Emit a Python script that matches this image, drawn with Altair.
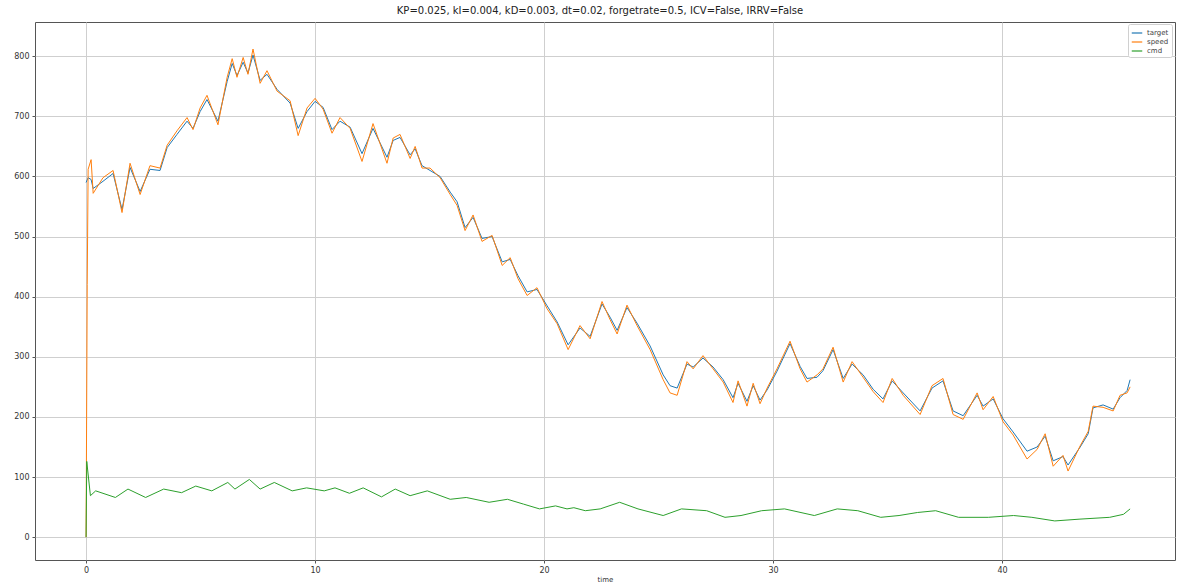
import altair as alt
import pandas as pd

# Time stamps (s) and controller trace values
t_target = [0.0, 0.09, 0.22, 0.31, 0.74, 1.18, 1.57, 1.92, 2.36, 2.79, 3.23, 3.54, 3.97, 4.41, 4.67,
            4.98, 5.28, 5.76, 6.16, 6.38, 6.59, 6.86, 7.07, 7.29, 7.60, 7.90, 8.34, 8.91, 9.26,
            9.65, 10.0, 10.35, 10.74, 11.09, 11.53, 12.05, 12.53, 13.14, 13.41, 13.71, 14.15,
            14.37, 14.67, 15.02, 15.46, 15.90, 16.20, 16.55, 16.90, 17.29, 17.73, 18.17, 18.52,
            18.86, 19.26, 19.69, 20.13, 20.57, 21.05, 21.57, 22.01, 22.53, 22.88, 23.19, 23.62,
            24.06, 24.63, 25.20, 25.50, 25.81, 26.24, 26.51, 26.94, 27.38, 27.82, 28.25, 28.47,
            28.86, 29.13, 29.43, 29.74, 30.17, 30.74, 31.18, 31.48, 31.92, 32.18, 32.62, 33.06,
            33.45, 33.93, 34.37, 34.80, 35.20, 35.68, 36.42, 36.94, 37.42, 37.86, 38.30, 38.91,
            39.17, 39.61, 40.04, 40.48, 41.09, 41.53, 41.88, 42.23, 42.66, 42.88, 43.41, 43.76,
            43.97, 44.41, 44.85, 45.15, 45.46, 45.59]

target = [590, 598, 595, 580, 592, 605, 545, 615, 575, 612, 610, 648, 670, 692, 680,
          708, 728, 692, 758, 788, 768, 790, 772, 802, 760, 770, 745, 722, 680,
          708, 725, 715, 678, 692, 682, 638, 680, 632, 660, 665, 636,
          646, 618, 610, 600, 574, 558, 515, 532, 497, 500, 458, 462,
          435, 408, 412, 385, 358, 320, 348, 334, 388, 366, 344, 382,
          356, 318, 270, 252, 248, 288, 283, 298, 283, 262, 232, 256,
          226, 252, 228, 245, 276, 322, 284, 264, 266, 277, 312, 264,
          288, 270, 246, 230, 260, 240, 210, 248, 260, 210, 202, 236,
          218, 230, 197, 175, 143, 150, 168, 127, 134, 120, 150, 172,
          215, 220, 213, 232, 244, 262]

t_speed = [0.0, 0.05] + t_target[1:]
speed = [0, 420, 612, 628, 572, 598, 610, 540, 622, 570, 618, 614, 652, 676, 698, 678,
         714, 735, 686, 765, 796, 765, 798, 770, 812, 755, 776, 742, 726, 668,
         714, 730, 712, 672, 698, 680, 625, 688, 622, 664, 670, 630,
         650, 614, 614, 598, 570, 552, 510, 536, 492, 502, 452, 465,
         430, 402, 415, 380, 355, 312, 352, 330, 392, 362, 338, 386,
         352, 312, 262, 240, 236, 292, 280, 302, 280, 258, 224, 260,
         218, 256, 222, 248, 280, 326, 280, 258, 270, 280, 316, 258,
         292, 266, 242, 224, 264, 236, 204, 252, 264, 204, 196, 240,
         212, 234, 192, 170, 130, 146, 172, 118, 136, 110, 152, 176,
         218, 216, 210, 236, 240, 250]

t_cmd = [0.0, 0.03, 0.19, 0.42, 1.28, 1.83, 2.6, 3.39, 4.17, 4.79, 5.49, 6.19, 6.5, 7.13, 7.6,
         8.22, 9.0, 9.63, 10.4, 10.87, 11.5, 12.1, 12.9, 13.5, 14.15, 14.9, 15.9, 16.6, 17.6,
         18.4, 19.1, 19.8, 20.5, 21.0, 21.3, 21.8, 22.45, 23.3, 24.1, 25.2, 26.0, 27.1, 27.9,
         28.6, 29.5, 30.5, 31.8, 32.8, 33.7, 34.7, 35.5, 36.3, 37.1, 38.1, 39.4, 40.5, 41.3,
         42.3, 43.4, 44.7, 45.3, 45.59]
cmd = [0, 126, 69, 77, 66, 80, 66, 80, 74, 85, 77, 91, 80, 96, 80,
       91, 77, 82, 77, 82, 73, 82, 67, 80, 69, 77, 63, 66, 58,
       63, 55, 47, 52, 47, 49, 44, 47, 58, 47, 36, 47, 44, 33,
       36, 44, 47, 36, 47, 44, 33, 36, 41, 44, 33, 33, 36, 33,
       27, 30, 33, 38, 47]

series_names = ["target", "speed", "cmd"]
series_colors = ["#1f77b4", "#ff7f0e", "#2ca02c"]

frames = [
    pd.DataFrame({"time": t_target, "value": target, "series": "target"}),
    pd.DataFrame({"time": t_speed, "value": speed, "series": "speed"}),
    pd.DataFrame({"time": t_cmd, "value": cmd, "series": "cmd"}),
]

x_axis = alt.X("time:Q", title="time",
               scale=alt.Scale(domain=[-2.23, 47.55], nice=False, zero=False),
               axis=alt.Axis(values=[0, 10, 20, 30, 40], format="d"))
y_axis = alt.Y("value:Q", title=None,
               scale=alt.Scale(domain=[-38, 857], nice=False, zero=False),
               axis=alt.Axis(values=list(range(0, 900, 100)), format="d"))
color = alt.Color("series:N",
                  scale=alt.Scale(domain=series_names, range=series_colors),
                  legend=alt.Legend(title=None, orient="none", legendX=1093, legendY=2,
                                    symbolType="stroke", symbolStrokeWidth=1.2,
                                    symbolSize=110, labelFontSize=7, rowPadding=0,
                                    labelColor="#444", padding=3, labelOffset=4,
                                    strokeColor="#d0d0d0", fillColor="white",
                                    cornerRadius=2))

layers = [
    alt.Chart(df).mark_line(strokeWidth=1, interpolate="linear").encode(
        x=x_axis, y=y_axis, color=color, order=alt.Order("time:Q"))
    for df in frames
]

chart = alt.layer(*layers).properties(
    width=1140, height=538,
    title=alt.TitleParams("KP=0.025, kI=0.004, kD=0.003, dt=0.02, forgetrate=0.5, ICV=False, IRRV=False",
                          fontSize=10, fontWeight="normal", color="#222", offset=6,
                          font="DejaVu Sans", dx=-5),
    autosize=alt.AutoSizeParams(type="none"),
    padding={"left": 35, "top": 22, "right": 4, "bottom": 25},
).configure_view(
    stroke="#555", strokeWidth=1
).configure_axis(
    grid=True, gridColor="#cfcfcf", gridWidth=1,
    domain=False, tickColor="#555", tickSize=3,
    labelFontSize=8, labelColor="#333", labelFont="DejaVu Sans",
    titleFont="DejaVu Sans", titleFontWeight="normal", titleColor="#333",
    labelPadding=3,
).configure_axisX(
    titleFontSize=7, titlePadding=1
).configure_legend(
    labelFont="DejaVu Sans"
)

chart.save("out.html", embed_options={"renderer": "svg", "actions": False})
